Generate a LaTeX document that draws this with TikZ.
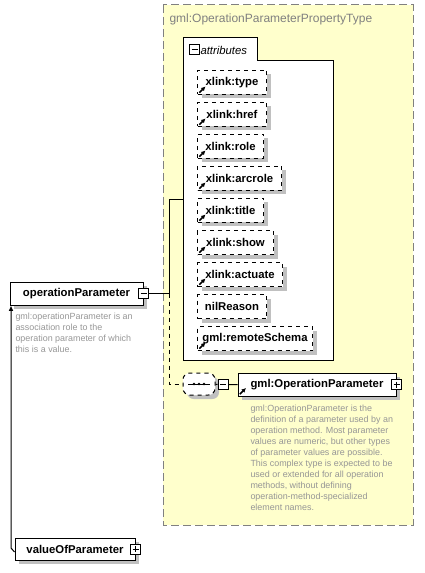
\documentclass[tikz,border=0pt]{standalone}
\usepackage{fontspec}
\setmainfont{Liberation Sans}
\usetikzlibrary{
  arrows.meta,
  positioning,
  calc,
  shadows
}
\definecolor{typefill}{RGB}{255,255,204}
\definecolor{typeedge}{RGB}{128,128,128}
\definecolor{doctext}{RGB}{150,150,150}
\definecolor{shade}{RGB}{192,192,192}

\begin{document}
\begin{tikzpicture}[
  x=0.75pt, y=-0.75pt, line width=0.75pt,
  every node/.style={font=\fontsize{8.5}{10}\selectfont},
  typebox/.style={draw=typeedge, fill=typefill, dash pattern=on 6pt off 3pt},
  elem/.style={draw, fill=white, minimum height=17.25pt, inner sep=0pt,
               font=\bfseries\fontsize{8.5}{10}\selectfont,
               general shadow={fill=shade, shadow xshift=3pt, shadow yshift=-3pt}},
  attr/.style={elem, dashed, minimum height=18pt, anchor=west},
  ref/.style={path picture={\draw[solid, line width=1.1pt, -{Latex[length=3.2pt,width=3.4pt]}]
              ($(path picture bounding box.south west)+(1.4pt,1.4pt)$) -- ++(4.6pt,4.6pt);}},
  fold/.style={draw, fill=white, minimum size=7.5pt, inner sep=0pt},
  foldminus/.style={fold, path picture={\draw
              ($(path picture bounding box.west)+(1.5pt,0)$) -- ($(path picture bounding box.east)+(-1.5pt,0)$);}},
  foldplus/.style={fold, path picture={\draw
              ($(path picture bounding box.west)+(1.5pt,0)$) -- ($(path picture bounding box.east)+(-1.5pt,0)$)
              ($(path picture bounding box.north)+(0,-1.5pt)$) -- ($(path picture bounding box.south)+(0,1.5pt)$);}},
  compositor/.style={draw, dashed, fill=white, rounded corners=5pt,
               minimum width=24pt, minimum height=16.5pt, inner sep=0pt,
               general shadow={fill=shade, shadow xshift=3pt, shadow yshift=-3pt}},
  doc/.style={anchor=north west, align=left, inner sep=0pt, text=doctext,
              font=\fontsize{6.7}{8.25}\selectfont},
]
\useasboundingbox (0,0) rectangle (424,573);

\draw[typebox] (163,5) rectangle (413,525);
\node[anchor=west, inner sep=0pt, text=typeedge, font=\fontsize{9}{10}\selectfont] (title) at (169,19)
  {gml:OperationParameterPropertyType};

\draw[fill=white] (183,38) -- (257,38) -- (257,61) -- (333,61) -- (333,360) -- (183,360) -- cycle;
\node[foldminus] (attrfold) at (194.5,50) {};
\node[anchor=west, inner sep=0pt, font=\itshape\fontsize{8.5}{10}\selectfont] (attrtitle)
  at (200,50) {attributes};

\node[attr, ref, minimum width=51.75pt] (a1) at (197,82.5)  {xlink:type};
\node[attr, ref, minimum width=51.75pt] (a2) at (197,114.5) {xlink:href};
\node[attr, ref, minimum width=49.5pt]  (a3) at (197,146.5) {xlink:role};
\node[attr, ref, minimum width=63pt]    (a4) at (197,178.5) {xlink:arcrole};
\node[attr, ref, minimum width=49.5pt]  (a5) at (197,210.5) {xlink:title};
\node[attr, ref, minimum width=57pt]    (a6) at (197,242.5) {xlink:show};
\node[attr, ref, minimum width=63.75pt] (a7) at (197,274.5) {xlink:actuate};
\node[attr, minimum width=51.75pt]      (a8) at (197,306.5) {nilReason};
\node[attr, ref, minimum width=86.25pt] (a9) at (197,338.5) {gml:remoteSchema};

\node[elem, minimum width=99.75pt] (op) at (76.5,293.5) {operationParameter};
\node[foldminus] (opfold) at (op.east) {};
\node[doc] (opdoc) at (15,313) {gml:operationParameter is an\\association role to the\\operation parameter of which\\this is a value.};

\node[compositor] (seq) at (199,384) {};
\draw (seq.center) ++(-11,0) -- ++(22,0);
\fill (seq.center) ++(-5,0) circle (1.1pt) ++(5,0) circle (1.1pt) ++(5,0) circle (1.1pt);
\node[foldminus] (seqfold) at (223,384.5) {};

\node[elem, ref, minimum width=118.5pt] (gop) at (317,384.5) {gml:OperationParameter};
\node[foldplus] (gopfold) at (gop.east) {};
\node[doc] (gopdoc) at (250,405) {gml:OperationParameter is the\\definition of a parameter used by an\\operation method. Most parameter\\values are numeric, but other types\\of parameter values are possible.\\This complex type is expected to be\\used or extended for all operation\\methods, without defining\\operation-method-specialized\\element names.};

\node[elem, minimum width=90pt, minimum height=16.5pt] (vop) at (75,549) {valueOfParameter};
\node[foldplus] (vopfold) at (vop.east) {};

\coordinate (branch) at (169,293.5);
\coordinate (attrin) at (183,200);
\coordinate (bend) at (11,548);

\draw (opfold) -- (branch) |- (attrin);
\draw[dashed] (branch) |- (seq);
\draw (seq) -- (seqfold) -- (gop);
\draw[-{Latex[length=4pt,width=3.5pt]}] ($(vop.west)+(0,3)$) -- (bend) -- (bend |- op.south);

\end{tikzpicture}
\end{document}
